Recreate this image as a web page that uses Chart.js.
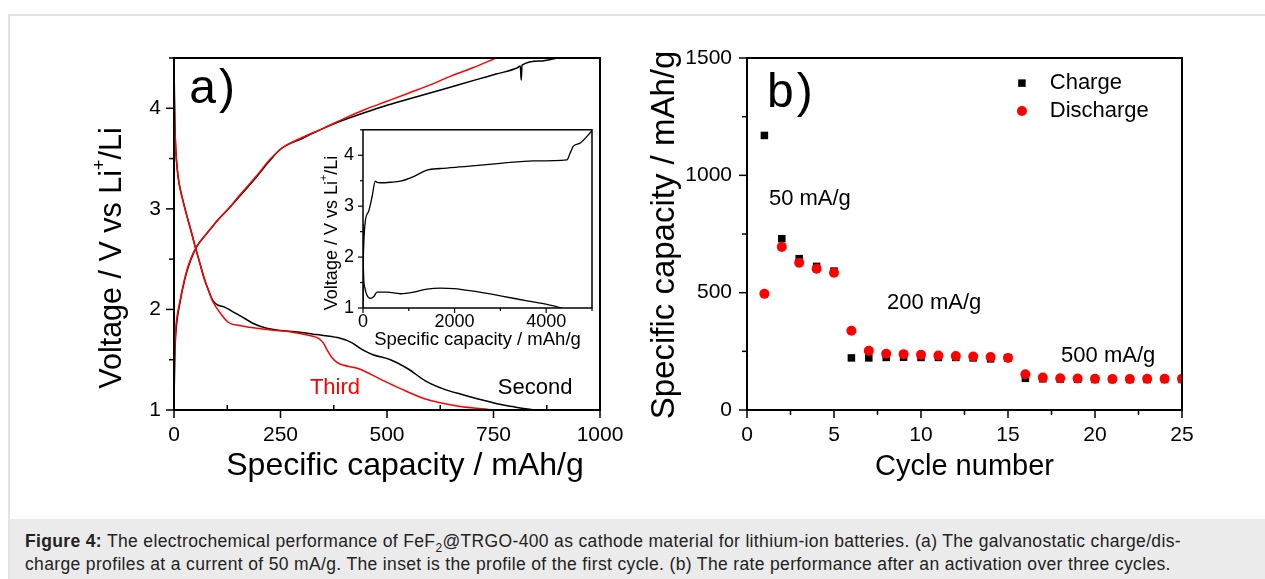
<!DOCTYPE html>
<html>
<head>
<meta charset="utf-8">
<script src="https://cdn.jsdelivr.net/npm/chart.js@4/dist/chart.umd.min.js"></script>
<style>
body { margin: 0; background: #fff; }
#figure { position: relative; width: 1265px; height: 579px; overflow: hidden; font-family: "Liberation Sans", Arial, sans-serif; }
#frame { position: absolute; left: 8px; top: 14px; width: 1300px; height: 600px; border-left: 2px solid #e3e3e3; border-top: 2px solid #e3e3e3; }
#chart-a { position: absolute; left: 90px; top: 30px; }
#chart-inset { position: absolute; left: 300px; top: 110px; }
#chart-b { position: absolute; left: 640px; top: 30px; }
#caption { position: absolute; left: 10px; top: 519px; width: 1255px; height: 60px; background: #ebebeb; box-sizing: border-box; padding: 11px 0 0 15px; font-size: 17.5px; letter-spacing: 0.35px; line-height: 23px; color: #222; white-space: nowrap; }
#caption sub { font-size: 12px; line-height: 0; }
</style>
</head>
<body>
<div id="figure">
    <div id="frame"></div>
    <canvas id="chart-a" width="550" height="460"></canvas>
    <canvas id="chart-inset" width="300" height="240"></canvas>
    <canvas id="chart-b" width="600" height="460"></canvas>
    <div id="caption"><b>Figure 4:</b> The electrochemical performance of FeF<sub>2</sub>@TRGO-400 as cathode material for lithium-ion batteries. (a) The galvanostatic charge/dis-<br>charge profiles at a current of 50 mA/g. The inset is the profile of the first cycle. (b) The rate performance after an activation over three cycles.</div>
</div>
<script>
// (a) galvanostatic profiles, capacity in mAh/g, voltage in V
var secondChargeCap = [0, 1, 2, 4, 8, 12, 20, 29, 40, 54, 78, 103, 130, 153, 194, 225, 252, 301, 340, 384, 450, 500, 549, 632, 714, 756, 805, 813, 815, 817, 860, 900];
var secondChargeV   = [1.0, 1.35, 1.55, 1.75, 1.92, 2.02, 2.2, 2.36, 2.5, 2.63, 2.76, 2.89, 3.01, 3.12, 3.32, 3.48, 3.6, 3.7, 3.78, 3.86, 3.96, 4.03, 4.09, 4.19, 4.29, 4.34, 4.4, 4.42, 4.28, 4.43, 4.47, 4.5];
var secondDischargeCap = [0, 1, 2, 4, 8, 12, 20, 29, 40, 50, 60, 70, 80, 91, 100, 120, 145, 170, 186, 220, 252, 300, 334, 384, 417, 442, 467, 508, 549, 590, 632, 680, 714, 756, 800, 845];
var secondDischargeV   = [4.5, 4.1, 3.85, 3.6, 3.38, 3.25, 3.1, 2.95, 2.78, 2.62, 2.47, 2.32, 2.2, 2.09, 2.05, 2.02, 1.96, 1.9, 1.86, 1.81, 1.79, 1.77, 1.75, 1.72, 1.67, 1.6, 1.55, 1.5, 1.41, 1.29, 1.21, 1.15, 1.11, 1.065, 1.03, 1.0];
var thirdChargeCap = [0, 1, 2, 4, 8, 12, 20, 29, 40, 54, 78, 103, 130, 153, 194, 225, 252, 301, 350, 400, 450, 500, 550, 600, 650, 700, 756];
var thirdChargeV   = [1.0, 1.4, 1.6, 1.8, 1.95, 2.04, 2.21, 2.37, 2.51, 2.63, 2.76, 2.89, 3.01, 3.13, 3.33, 3.49, 3.6, 3.71, 3.8, 3.9, 3.99, 4.07, 4.15, 4.23, 4.32, 4.4, 4.5];
var thirdDischargeCap = [0, 1, 2, 4, 8, 12, 20, 29, 40, 50, 60, 70, 80, 91, 111, 128, 153, 219, 268, 318, 340, 350, 359, 371, 384, 434, 483, 533, 590, 665, 750];
var thirdDischargeV   = [4.5, 4.1, 3.85, 3.6, 3.38, 3.25, 3.1, 2.95, 2.78, 2.62, 2.47, 2.32, 2.2, 2.08, 1.95, 1.87, 1.84, 1.8, 1.78, 1.74, 1.71, 1.67, 1.6, 1.52, 1.47, 1.41, 1.31, 1.21, 1.11, 1.04, 1.0];

// inset: first cycle
var firstDischargeCap = [0, 5, 15, 40, 87, 160, 233, 306, 524, 815, 1106, 1397, 1688, 1980, 2416, 2998, 3581, 4017, 4345];
var firstDischargeV   = [2.65, 2.0, 1.6, 1.4, 1.25, 1.19, 1.22, 1.31, 1.31, 1.28, 1.31, 1.37, 1.39, 1.38, 1.33, 1.24, 1.14, 1.07, 1.0];
var firstChargeCap = [0, 5, 15, 51, 124, 197, 269, 300, 378, 600, 815, 1106, 1397, 1688, 2271, 2998, 3726, 4454, 4512, 4560, 4585, 4745, 5000];
var firstChargeV   = [1.0, 1.8, 2.21, 2.71, 2.9, 3.18, 3.49, 3.47, 3.46, 3.47, 3.49, 3.58, 3.71, 3.74, 3.78, 3.84, 3.89, 3.91, 4.02, 4.12, 4.17, 4.24, 4.48];

// (b) rate performance, mAh/g
var cycles = [1, 2, 3, 4, 5, 6, 7, 8, 9, 10, 11, 12, 13, 14, 15, 16, 17, 18, 19, 20, 21, 22, 23, 24, 25];
var chargeCapacity    = [1170, 730, 645, 612, 592, 222, 222, 224, 225, 224, 224, 224, 222, 218, 222, 135, 133, 132, 131, 130, 130, 130, 130, 130, 130];
var dischargeCapacity = [495, 695, 628, 602, 585, 338, 252, 240, 238, 235, 232, 230, 228, 226, 222, 152, 138, 135, 134, 133, 132, 132, 133, 133, 133];

var FONT = '"Liberation Sans", Arial, sans-serif';

var toPoints = function(xs, ys) {
    return xs.map(function(x, i) { return {x: x, y: ys[i]}; });
};

// box round the plot area plus Origin-like tick marks
var framePlugin = {
    id: 'frame',
    afterDraw: function(chart, args, o) {
        var ctx = chart.ctx, a = chart.chartArea;
        ctx.save();
        ctx.strokeStyle = '#000';
        ctx.lineWidth = o.lineWidth;
        ctx.strokeRect(a.left, a.top, a.right - a.left, a.bottom - a.top);
        ctx.lineWidth = o.tickWidth;
        ['x', 'y'].forEach(function(id) {
            var s = chart.scales[id];
            s.ticks.forEach(function(t) {
                var p = s.getPixelForValue(t.value);
                var major = t.label !== '';
                var len = major ? o.major : o.minor;
                var dir = (id === 'x' && !major && o.xMinorIn) ? -1 : 1;
                ctx.beginPath();
                if (id === 'x') {
                    ctx.moveTo(p, a.bottom);
                    ctx.lineTo(p, a.bottom + dir * len);
                } else {
                    ctx.moveTo(a.left, p);
                    ctx.lineTo(a.left - dir * len, p);
                }
                ctx.stroke();
            });
        });
        ctx.restore();
    }
};

// axis titles (with superscript parts) and free text placed at data coordinates
var textPlugin = {
    id: 'texts',
    afterDraw: function(chart, args, o) {
        var ctx = chart.ctx, a = chart.chartArea;
        ctx.save();
        (o.titles || []).forEach(function(t) {
            var cx = t.side === 'y' ? a.left + t.dx : (a.left + a.right) / 2 + t.dx;
            var cy = t.side === 'y' ? (a.top + a.bottom) / 2 + t.dy : a.bottom + t.dy;
            var small = Math.round(t.size * 0.6);
            var w = 0;
            t.parts.forEach(function(p) {
                ctx.font = (p.sup ? small : t.size) + 'px ' + FONT;
                w += ctx.measureText(p.t).width;
            });
            ctx.save();
            ctx.translate(cx, cy);
            if (t.side === 'y') ctx.rotate(-Math.PI / 2);
            ctx.fillStyle = '#000';
            ctx.textBaseline = 'middle';
            ctx.textAlign = 'left';
            var x = -w / 2;
            t.parts.forEach(function(p) {
                ctx.font = (p.sup ? small : t.size) + 'px ' + FONT;
                ctx.fillText(p.t, x, p.sup ? -t.size * 0.42 : 0);
                x += ctx.measureText(p.t).width;
            });
            ctx.restore();
        });
        (o.notes || []).forEach(function(n) {
            ctx.font = n.size + 'px ' + FONT;
            ctx.letterSpacing = n.spacing || '0px';
            ctx.fillStyle = n.color || '#000';
            ctx.textAlign = 'left';
            ctx.textBaseline = n.baseline || 'middle';
            ctx.fillText(n.text, chart.scales.x.getPixelForValue(n.x), chart.scales.y.getPixelForValue(n.y));
        });
        ctx.letterSpacing = '0px';
        (o.legend || []).forEach(function(l) {
            var ds = chart.data.datasets[l.dataset];
            var px = chart.scales.x.getPixelForValue(l.x);
            var py = chart.scales.y.getPixelForValue(l.y);
            ctx.fillStyle = ds.backgroundColor;
            Chart.helpers.drawPoint(ctx, {pointStyle: ds.pointStyle, radius: ds.pointRadius, rotation: 0, borderWidth: 0}, px, py);
            ctx.font = l.size + 'px ' + FONT;
            ctx.fillStyle = '#000';
            ctx.textAlign = 'left';
            ctx.textBaseline = 'middle';
            ctx.fillText(ds.label, chart.scales.x.getPixelForValue(l.textX), py);
        });
        ctx.restore();
    }
};

var makeScale = function(min, max, step, labelEvery, size, pad, fit) {
    return {
        type: 'linear',
        min: min,
        max: max,
        grid: {display: false, drawTicks: false},
        border: {display: false},
        ticks: {
            stepSize: step,
            autoSkip: false,
            maxRotation: 0,
            padding: pad,
            color: '#000',
            font: {family: FONT, size: size},
            callback: function(v) {
                return Math.abs(v / labelEvery - Math.round(v / labelEvery)) < 1e-6 ? String(v) : '';
            }
        },
        afterFit: fit
    };
};

var lineSet = function(label, xs, ys, color, order) {
    return {
        label: label,
        data: toPoints(xs, ys),
        showLine: true,
        borderColor: color,
        borderWidth: 1.5,
        pointRadius: 0,
        cubicInterpolationMode: 'monotone',
        order: order
    };
};

var baseOptions = function(padding) {
    return {
        responsive: false,
        animation: false,
        layout: {padding: padding},
        plugins: {legend: {display: false}, tooltip: {enabled: false}}
    };
};

var initCharts = function() {
    var optA = baseOptions({top: 28, right: 40, left: 0, bottom: 0});
    optA.scales = {
        x: makeScale(0, 1000, 125, 250, 21, 13, function(s) { s.height = 80; }),
        y: makeScale(1, 4.5, 0.5, 1, 21, 13, function(s) { s.width = 84; })
    };
    optA.plugins.frame = {lineWidth: 2, tickWidth: 1.5, major: 8, minor: 5, xMinorIn: true};
    optA.plugins.texts = {
        titles: [
            {side: 'x', dx: 18, dy: 56, size: 32, parts: [{t: 'Specific capacity / mAh/g'}]},
            {side: 'y', dx: -61, dy: 24, size: 30.5, parts: [{t: 'Voltage / V vs Li'}, {t: '+', sup: true}, {t: '/Li'}]}
        ],
        notes: [
            {text: 'a)', x: 36, y: 4.05, size: 48, baseline: 'alphabetic', spacing: '3px'},
            {text: 'Third', x: 319, y: 1.22, size: 22, color: '#ff0000'},
            {text: 'Second', x: 760, y: 1.22, size: 22}
        ]
    };
    new Chart(document.getElementById('chart-a'), {
        type: 'scatter',
        data: {datasets: [
            lineSet('Second charge', secondChargeCap, secondChargeV, '#000000', 1),
            lineSet('Second discharge', secondDischargeCap, secondDischargeV, '#000000', 1),
            lineSet('Third charge', thirdChargeCap, thirdChargeV, '#ff0000', 0),
            lineSet('Third discharge', thirdDischargeCap, thirdDischargeV, '#ff0000', 0)
        ]},
        options: optA,
        plugins: [framePlugin, textPlugin]
    });

    var optI = baseOptions({top: 11, right: 8, left: 0, bottom: 0});
    optI.scales = {
        x: makeScale(0, 5000, 1000, 2000, 18, 3, function(s) { s.height = 42; }),
        y: makeScale(1, 4.5, 0.5, 1, 18, 9, function(s) { s.width = 63; })
    };
    optI.plugins.frame = {lineWidth: 1.5, tickWidth: 1.2, major: 5, minor: 3, xMinorIn: false};
    optI.plugins.texts = {
        titles: [
            {side: 'x', dx: 0, dy: 32, size: 18.5, parts: [{t: 'Specific capacity / mAh/g'}]},
            {side: 'y', dx: -31, dy: 14, size: 18, parts: [{t: 'Voltage / V vs Li'}, {t: '+', sup: true}, {t: '/Li'}]}
        ]
    };
    var insetDischarge = lineSet('First discharge', firstDischargeCap, firstDischargeV, '#000000', 0);
    var insetCharge = lineSet('First charge', firstChargeCap, firstChargeV, '#000000', 0);
    insetDischarge.borderWidth = insetCharge.borderWidth = 1.3;
    new Chart(document.getElementById('chart-inset'), {
        type: 'scatter',
        data: {datasets: [insetDischarge, insetCharge]},
        options: optI,
        plugins: [framePlugin, textPlugin]
    });

    var optB = baseOptions({top: 28, right: 58, left: 0, bottom: 0});
    optB.scales = {
        x: makeScale(0, 25, 2.5, 5, 21, 13, function(s) { s.height = 80; }),
        y: makeScale(0, 1500, 250, 500, 21, 15, function(s) { s.width = 107; })
    };
    optB.plugins.frame = {lineWidth: 2, tickWidth: 1.5, major: 8, minor: 5, xMinorIn: false};
    optB.plugins.texts = {
        titles: [
            {side: 'x', dx: 0, dy: 57, size: 29, parts: [{t: 'Cycle number'}]},
            {side: 'y', dx: -82, dy: 1, size: 33, parts: [{t: 'Specific capacity / mAh/g'}]}
        ],
        notes: [
            {text: 'b)', x: 1.15, y: 1291, size: 48, baseline: 'alphabetic', spacing: '3px'},
            {text: '50 mA/g', x: 1.26, y: 899, size: 22},
            {text: '200 mA/g', x: 8.05, y: 456, size: 22},
            {text: '500 mA/g', x: 18.05, y: 230, size: 22}
        ],
        legend: [
            {dataset: 0, x: 15.8, y: 1393, textX: 17.4, size: 22},
            {dataset: 1, x: 15.8, y: 1274, textX: 17.4, size: 22}
        ]
    };
    new Chart(document.getElementById('chart-b'), {
        type: 'scatter',
        data: {datasets: [
            {label: 'Charge', data: toPoints(cycles, chargeCapacity), pointStyle: 'rect', pointRadius: 5.3, backgroundColor: '#000000', borderWidth: 0, order: 1},
            {label: 'Discharge', data: toPoints(cycles, dischargeCapacity), pointStyle: 'circle', pointRadius: 5, backgroundColor: '#ff0000', borderWidth: 0, order: 0}
        ]},
        options: optB,
        plugins: [framePlugin, textPlugin]
    });
};

window.onload = initCharts;
</script>
</body>
</html>
